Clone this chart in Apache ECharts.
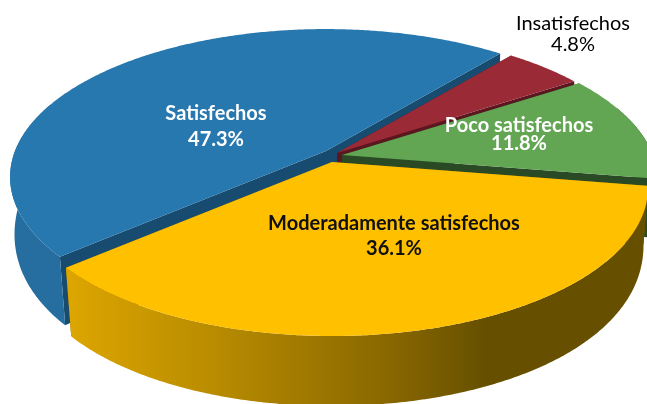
<!DOCTYPE html>
<html>
<head>
<meta charset="utf-8">
<style>html,body{margin:0;padding:0;background:#fff;overflow:hidden}#c{width:647px;height:404px}</style>
<script src="https://cdn.jsdelivr.net/npm/echarts@6/dist/echarts.min.js"></script>
</head>
<body>
<div id="c"></div>
<script>
// clockwise from the first slice
var categories = ['Insatisfechos', 'Poco satisfechos', 'Moderadamente satisfechos', 'Satisfechos'];
var percentages = [4.8, 11.8, 36.1, 47.3];

// Presentation only
var startAngle = 39.5;
var apexes = [[337,153],[342,155],[332,162],[326,151]];
var paintOrder = [1,2,3,0];
var topColors = ['#9A2A36','#62A552','#FFC000','#2878B0'];
var cutColors = ['#5C1620','#2A4A26','#7F6000','#174B70'];
var sideStops = [
  [[0,'#5C1620'],[1,'#5C1620']],
  [[0,'#2A4A26'],[1,'#2A4A26']],
  [[0,'#DDA600'],[0.25,'#B98C00'],[0.55,'#8A6800'],[0.72,'#665000'],[1,'#665000']],
  [[0,'#256E9F'],[1,'#246C9C']]
];
var labelPos = [[573,34],[519,135],[394,236],[216,127]];
var labelColors = ['#000','#fff','#111','#fff'];
var labelWeights = ['normal','bold','bold','bold'];
var labelGaps = [21,18,25,26];
var A = 311, B = 143.4, K = -0.176;

function project(apex, deg){
  var r = deg*Math.PI/180, u = Math.sin(r), v = -Math.cos(r), w = 1+K*v;
  return [apex[0]+A*u/w, apex[1]+B*v/w];
}
function extrude(p, apex, v){
  var shrink = 0.988-0.012*v;
  return [apex[0]+(p[0]-apex[0])*shrink, p[1]+54+34*v-18*v*v];
}
var total = percentages.reduce(function(a,b){return a+b;},0);

function renderItem(params, api){
  var i = params.dataIndex, val = api.value(0), before = 0;
  for (var j=0;j<i;j++) before += percentages[j];
  var a0 = startAngle + before/total*360, a1 = a0 + val/total*360;
  var apex = apexes[i], arc = [], sideTop = [], sideLow = [], firstLow, lastLow;
  var n = Math.max(8, Math.round((a1-a0)*2));
  for (var s=0;s<=n;s++){
    var d = a0+(a1-a0)*s/n;
    var v = -Math.cos(d*Math.PI/180);
    var p = project(apex, d);
    var q = extrude(p, apex, v);
    arc.push(p);
    if (s===0) firstLow = q;
    if (s===n) lastLow = q;
    if (v >= -0.35){ sideTop.push(p); sideLow.unshift(q); }
  }
  var apexLow = extrude(apex, apex, 0);
  var z = paintOrder[i]*10+1;
  var kids = [];
  kids.push({type:'polygon',z2:z,shape:{points:[apex,arc[0],firstLow,apexLow]},style:{fill:cutColors[i]}});
  kids.push({type:'polygon',z2:z,shape:{points:[apex,arc[arc.length-1],lastLow,apexLow]},style:{fill:cutColors[i]}});
  if (sideTop.length > 1) kids.push({type:'polygon',z2:z+1,shape:{points:sideTop.concat(sideLow)},style:{fill:{
    type:'linear',global:true,x:i===2?67:0,y:0,x2:647,y2:0,
    colorStops:sideStops[i].map(function(c){return {offset:c[0],color:c[1]};})
  }}});
  kids.push({type:'polygon',z2:z+2,shape:{points:[apex].concat(arc)},style:{fill:topColors[i]}});
  var lp = labelPos[i], gap = labelGaps[i];
  var font = {fontFamily:'Lato',fontSize:20,fontWeight:labelWeights[i],fill:labelColors[i],align:'center',verticalAlign:'middle'};
  kids.push({type:'text',z2:100,style:Object.assign({x:lp[0],y:lp[1]-gap/2,text:categories[i]},font)});
  kids.push({type:'text',z2:100,style:Object.assign({x:lp[0],y:lp[1]+gap/2,text:val.toFixed(1)+'%'},font)});
  return {type:'group',children:kids};
}

var chart = echarts.init(document.getElementById('c'),null,{renderer:'canvas'});
chart.setOption({
  animation:false,
  backgroundColor:'#fff',
  series:[{
    type:'custom',
    coordinateSystem:'none',
    renderItem:renderItem,
    data:percentages.map(function(v,i){return {name:categories[i],value:[v]};})
  }]
});
</script>
</body>
</html>
